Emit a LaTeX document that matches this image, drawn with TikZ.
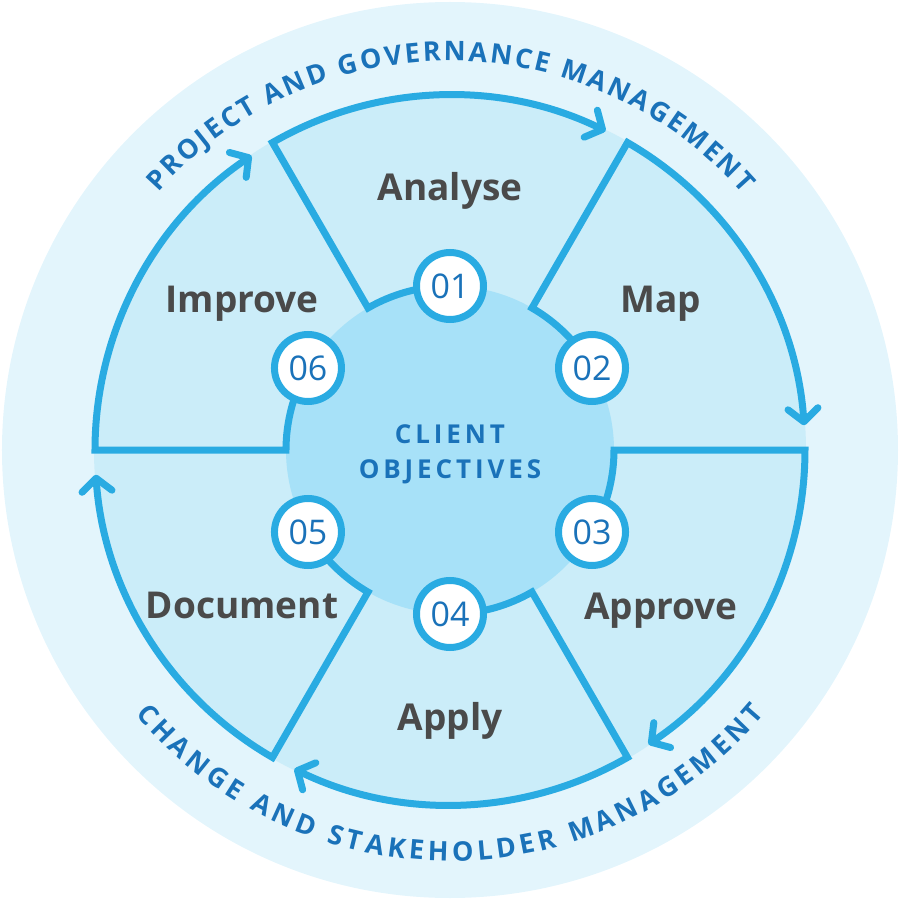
\documentclass[tikz,border=0pt]{standalone}
\usepackage{fontspec}
\setmainfont{Open Sans}
\usetikzlibrary{arrows.meta,decorations.text}

\definecolor{ringline}{HTML}{29ABE2}
\definecolor{outerbg}{HTML}{E3F5FC}
\definecolor{ringbg}{HTML}{CBEDF9}
\definecolor{corebg}{HTML}{A7E1F8}
\definecolor{numblue}{HTML}{1A72B9}
\definecolor{labelgrey}{HTML}{4A4A4A}
\newcommand\bandfont{\fontsize{27}{27}\selectfont\bfseries}

\begin{document}
\begin{tikzpicture}[x=1pt,y=1pt,
	seg/.style={draw=ringline,line width=7pt,line join=miter,-{Straight Barb[round,length=13pt,width=30pt]}},
	numcirc/.style={circle,draw=ringline,line width=7pt,fill=white,minimum size=67pt,inner sep=0pt,text=numblue,font=\fontsize{34}{34}\selectfont},
	stage/.style={anchor=base,text=labelgrey,font=\fontsize{37}{37}\selectfont\bfseries},
	coretext/.style={anchor=base,text=numblue,font=\fontsize{26}{26}\selectfont\bfseries\addfontfeature{LetterSpace=15}}]
	\useasboundingbox (-450,-450) rectangle (450,450);
	\fill[outerbg] (0,0) circle[radius=448];
	\fill[ringbg] (0,0) circle[radius=356];
	\fill[corebg] (0,0) circle[radius=164];

	\foreach \a/\n in {120/1,60/2,0/3,-60/4,-120/5,180/6}
		\draw[seg] ({\a-30}:164) arc[start angle=\a-30,end angle=\a,radius=164]
			-- (\a:355) arc[start angle=\a,end angle=\a-56,radius=355];
	\foreach \a/\n in {120/1,60/2,0/3,-60/4,-120/5,180/6}
		\node[numcirc] (n\n) at ({\a-30}:164) {0\n};

	\node[stage] (analyse) at (0,249) {Analyse};
	\node[stage] (map) at (211,137) {Map};
	\node[stage] (approve) at (211,-169) {Approve};
	\node[stage] (apply) at (0,-280) {Apply};
	\node[stage] (document) at (-208,-168) {Document};
	\node[stage] (improve) at (-208,137) {Improve};

	\node[coretext] (client) at (0,7) {CLIENT};
	\node[coretext] (objectives) at (0,-28) {OBJECTIVES};

	\path[decorate,decoration={text along path,text color=numblue,text align={fit to path},
		text={|\bandfont|PROJECT AND GOVERNANCE MANAGEMENT}}]
		(138.5:389) arc[start angle=138.5,end angle=41.2,radius=389];
	\path[decorate,decoration={text along path,text color=numblue,text align={fit to path},
		text={|\bandfont|CHANGE AND STAKEHOLDER MANAGEMENT}}]
		(220:411) arc[start angle=220,end angle=320,radius=411];
\end{tikzpicture}
\end{document}
